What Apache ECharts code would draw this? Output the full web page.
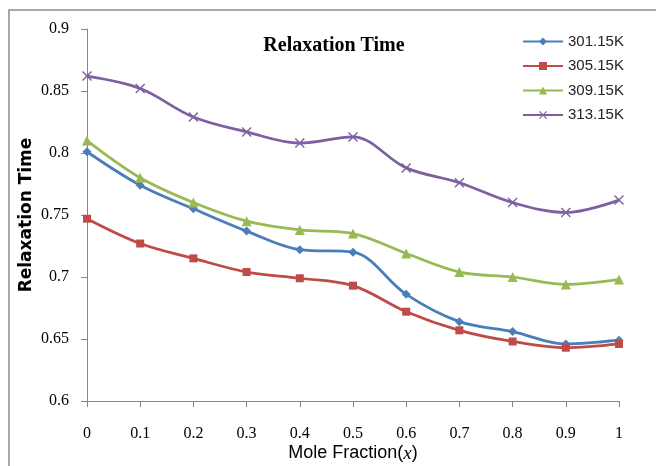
<!DOCTYPE html>
<html>
<head>
<meta charset="utf-8">
<script src="https://cdn.jsdelivr.net/npm/echarts@6/dist/echarts.min.js"></script>
<style>
  html, body { margin: 0; padding: 0; background: #fff; }
  #main { width: 656px; height: 466px; }
</style>
</head>
<body>
<div id="main"></div>
<script>
const fractions = ['0', '0.1', '0.2', '0.3', '0.4', '0.5', '0.6', '0.7', '0.8', '0.9', '1'];
const t301 = [0.801, 0.774, 0.755, 0.737, 0.722, 0.720, 0.686, 0.664, 0.656, 0.646, 0.649];
const t305 = [0.747, 0.727, 0.715, 0.704, 0.699, 0.693, 0.672, 0.657, 0.648, 0.643, 0.646];
const t309 = [0.810, 0.780, 0.760, 0.745, 0.738, 0.735, 0.719, 0.704, 0.700, 0.694, 0.698];
const t313 = [0.862, 0.852, 0.829, 0.817, 0.808, 0.813, 0.788, 0.776, 0.760, 0.752, 0.762];

const chart = echarts.init(document.getElementById('main'));

const cross = 'path://M0,1L1,0L5,4L9,0L10,1L6,5L10,9L9,10L5,6L1,10L0,9L4,5Z';

function mk(name, data, color, symbol, size) {
  return {
    name: name,
    type: 'line',
    data: data,
    smooth: 0.35,
    symbol: symbol,
    symbolSize: size,
    lineStyle: { color: color, width: 2.75 },
    itemStyle: { color: color },
    emphasis: { disabled: true }
  };
}

const option = {
  animation: false,
  graphic: [{
    type: 'rect',
    shape: { x: 9, y: 10, width: 700, height: 500 },
    style: { fill: 'none', stroke: '#8c8c8c', lineWidth: 1.5 }
  }],
  title: {
    text: 'Relaxation Time',
    left: 329,
    top: 31,
    textAlign: 'center',
    textStyle: { fontFamily: 'Liberation Serif', fontWeight: 'bold', fontSize: 20, color: '#000' }
  },
  legend: {
    orient: 'vertical',
    left: 517,
    top: 29,
    itemWidth: 40,
    itemHeight: 10,
    itemGap: 9.5,
    textStyle: { fontFamily: 'Liberation Sans', fontSize: 15, color: '#222' },
    data: ['301.15K', '305.15K', '309.15K', '313.15K']
  },
  grid: { left: 87, right: 37, top: 29, bottom: 65, outerBoundsMode: 'none' },
  xAxis: {
    type: 'category',
    data: fractions,
    boundaryGap: false,
    name: 'Mole Fraction({i|x})',
    nameLocation: 'middle',
    nameGap: 43,
    nameMoveOverlap: false,
    nameTextStyle: {
      fontFamily: 'Liberation Sans', fontSize: 18, color: '#000',
      rich: { i: { fontFamily: 'Liberation Serif', fontStyle: 'italic', fontSize: 19, color: '#000' } }
    },
    axisLine: { lineStyle: { color: '#868686' } },
    axisTick: { length: 6, lineStyle: { color: '#868686' } },
    axisLabel: { margin: 25, fontFamily: 'Liberation Serif', fontSize: 16, color: '#000' },
    splitLine: { show: false }
  },
  yAxis: {
    type: 'value',
    min: 0.6,
    max: 0.9,
    interval: 0.05,
    name: 'Relaxation Time',
    nameLocation: 'middle',
    nameGap: 52,
    nameMoveOverlap: false,
    nameTextStyle: { fontFamily: 'DejaVu Sans', fontWeight: 'bold', fontSize: 17, color: '#000' },
    axisLine: { show: true, lineStyle: { color: '#868686' } },
    axisTick: { show: true, length: 6, lineStyle: { color: '#868686' } },
    axisLabel: {
      margin: 18,
      fontFamily: 'Liberation Serif',
      fontSize: 16,
      color: '#000',
      formatter: v => String(+v.toFixed(2))
    },
    splitLine: { show: false }
  },
  series: [
    mk('301.15K', t301, '#4a7ebb', 'diamond', 9),
    mk('305.15K', t305, '#be4b48', 'rect', 8),
    mk('309.15K', t309, '#98b954', 'triangle', 10),
    mk('313.15K', t313, '#7d60a0', cross, 10)
  ]
};

chart.setOption(option);
</script>
</body>
</html>
